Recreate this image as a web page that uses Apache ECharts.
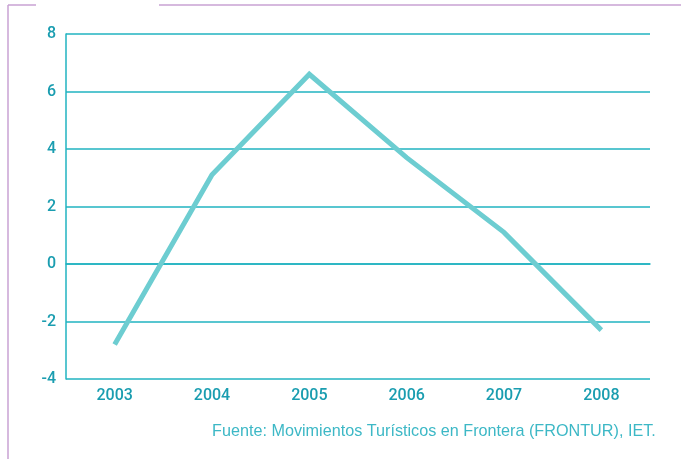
<!DOCTYPE html>
<html>
<head>
<meta charset="utf-8">
<script src="https://cdn.jsdelivr.net/npm/echarts@6/dist/echarts.min.js"></script>
<style>
  html, body { margin: 0; padding: 0; background: #fff; }
  #chart { width: 681px; height: 459px; }
</style>
</head>
<body>
<div id="chart"></div>
<script>
// años y variación (%)
var years = ['2003', '2004', '2005', '2006', '2007', '2008'];
var values = [-2.8, 3.1, 6.6, 3.7, 1.1, -2.3];
var yTicks = { min: -4, max: 8, interval: 2 };
var source = 'Fuente: Movimientos Turísticos en Frontera (FRONTUR), IET.';

var teal = '#20b3c0';
var purple = '#c9a2d3';

var myChart = echarts.init(document.getElementById('chart'));
myChart.setOption({
    animation: false,
    grid: { left: 66, right: 31, top: 34, bottom: 80 },
    xAxis: {
        type: 'category',
        data: years,
        boundaryGap: true,
        axisLine: { lineStyle: { color: teal, width: 1.5 } },
        axisTick: { show: false },
        axisLabel: { color: '#1a9db0', fontSize: 16, fontFamily: 'Roboto', fontWeight: 500, margin: 9 }
    },
    yAxis: {
        type: 'value',
        min: yTicks.min,
        max: yTicks.max,
        interval: yTicks.interval,
        axisLine: { show: true, lineStyle: { color: teal, width: 1.5 } },
        axisTick: { show: false },
        splitLine: { lineStyle: { color: teal, width: 1.5 } },
        axisLabel: { color: '#1a9db0', fontSize: 16, fontFamily: 'Roboto', fontWeight: 500, margin: 10 }
    },
    graphic: [
        { type: 'line', shape: { x1: 8, y1: 5, x2: 8, y2: 459 }, style: { stroke: purple, lineWidth: 1.5 } },
        { type: 'line', shape: { x1: 8, y1: 5, x2: 36, y2: 5 }, style: { stroke: purple, lineWidth: 1.5 } },
        { type: 'line', shape: { x1: 159, y1: 5, x2: 681, y2: 5 }, style: { stroke: purple, lineWidth: 1.5 } },
        { type: 'text', left: 212, top: 424, style: { text: source, fill: '#3db8c6', fontSize: 16.2, fontFamily: 'Liberation Sans' } }
    ],
    series: [{
        type: 'line',
        data: values,
        symbol: 'none',
        lineStyle: { color: '#6dcdd1', width: 5, cap: 'butt', join: 'miter' }
    }]
});
</script>
</body>
</html>
